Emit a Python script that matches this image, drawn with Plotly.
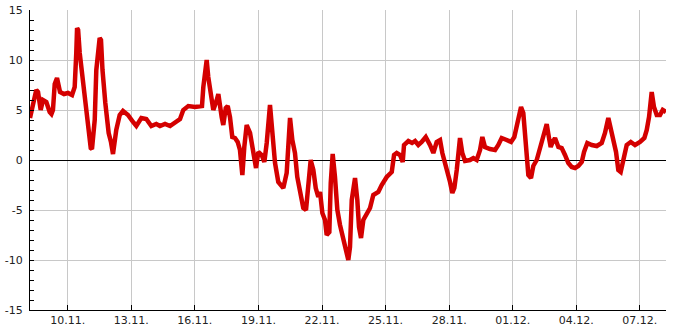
import pandas as pd
import plotly.graph_objects as go

# observation times: hours since 2023-11-08 00:00
hours = [5.3, 8.7, 12.4, 14.4, 17.4, 20.0, 23.8, 27.6, 29.6, 31.3, 33.3, 35.9, 37.6, 39.3,
         43.8, 48.3, 52.9, 55.9, 57.7, 58.6, 59.8, 61.6, 63.4, 67.3, 71.0, 74.1, 75.5, 78.6, 80.4,
         84.2, 85.7, 87.4, 90.6, 94.4, 97.0, 99.3, 103.0, 106.9, 110.6, 116.3, 122.0, 125.7,
         131.4, 137.0, 142.7, 148.3, 152.5, 158.2, 163.9, 169.5, 175.2, 178.9, 184.6, 192.2,
         200.1, 201.6, 205.4, 207.2, 210.3, 212.9, 216.8, 218.6, 222.4, 224.2, 227.0, 229.2,
         231.8, 234.4, 237.5, 240.5, 243.1, 245.8, 248.0, 250.7, 254.5, 257.5, 261.3, 263.9,
         267.7, 270.7, 273.4, 277.1, 279.7, 282.8, 286.5, 290.4, 292.2, 296.0, 299.8, 302.4,
         305.4, 308.0, 311.9, 314.8, 317.9, 320.5, 323.2, 326.2, 328.9, 331.8, 333.8, 336.4,
         339.4, 341.3, 344.3, 345.9, 348.1, 350.7, 353.4, 356.4, 359.5, 362.1, 365.8, 367.7,
         369.7, 373.4, 376.0, 377.9, 380.2, 382.8, 386.6, 390.4, 394.1, 399.8, 403.6, 409.3,
         415.0, 417.6, 420.6, 424.4, 427.4, 428.9, 433.8, 438.0, 441.4, 445.1, 448.9, 453.5,
         458.3, 462.1, 465.9, 469.7, 472.3, 475.3, 478.4, 481.0, 483.6, 485.9, 488.6, 490.4,
         492.3, 494.9, 498.0, 503.6, 507.4, 511.2, 515.0, 517.6, 520.6, 526.3, 532.0, 535.7,
         539.5, 545.2, 550.1, 553.8, 556.5, 561.4, 564.0, 566.7, 569.7, 572.7, 575.3, 579.2,
         582.9, 586.7, 590.5, 593.1, 595.0, 597.3, 599.9, 603.7, 607.5, 611.2, 615.0, 618.8,
         622.6, 626.3, 630.2, 632.8, 636.5, 641.5, 647.2, 652.8, 656.5, 660.3, 663.0, 666.0,
         669.0, 671.6, 674.3, 677.3, 681.1, 685.7, 690.5, 696.2, 701.1, 703.8, 706.4, 709.4,
         712.0, 715.1, 718.8, 721.9, 725.6]

temps = [4.2, 5.5, 7.0, 6.8, 5.0, 6.0, 5.8, 4.8, 4.6, 5.0, 7.6, 8.2, 7.4, 6.8,
         6.6, 6.7, 6.5, 7.3, 10.7, 13.2, 13.0, 10.7, 9.2, 6.3, 3.3, 1.2, 1.1, 4.0, 9.0,
         12.2, 12.0, 9.0, 5.7, 2.7, 1.8, 0.6, 3.0, 4.5, 4.9, 4.5, 3.8, 3.4,
         4.2, 4.1, 3.4, 3.6, 3.4, 3.6, 3.4, 3.8, 4.1, 5.0, 5.4, 5.3,
         5.4, 7.3, 10.0, 8.3, 6.0, 5.0, 6.0, 6.6, 4.3, 3.5, 5.2, 5.4,
         4.3, 2.3, 2.2, 1.8, 1.0, -1.5, 1.3, 3.5, 2.7, 1.3, -0.8, 0.8,
         0.5, -0.2, 1.7, 5.5, 3.3, -0.3, -2.2, -2.7, -2.8, -1.3, 4.2, 2.0,
         0.7, -1.7, -3.3, -4.8, -5.0, -2.3, 0.0, -1.0, -2.8, -3.7, -3.2, -5.3,
         -6.0, -7.5, -7.2, -2.3, 0.6, -1.7, -5.0, -6.5, -7.8, -8.8, -10.0, -8.7,
         -4.0, -1.8, -4.0, -6.7, -7.8, -6.0, -5.5, -4.8, -3.5, -3.2, -2.5, -1.7,
         -1.2, 0.5, 0.7, 0.5, -0.2, 1.5, 1.9, 1.7, 1.9, 1.5, 1.8, 2.3,
         1.5, 0.7, 1.8, 2.0, 0.7, -0.2, -1.3, -2.2, -3.3, -2.8, -1.0, 0.5,
         2.2, 0.7, -0.1, 0.0, 0.2, 0.0, 1.0, 2.3, 1.3, 1.1, 1.0, 1.5,
         2.2, 2.0, 1.8, 2.3, 3.3, 5.3, 4.7, 1.0, -1.5, -1.8, -0.6, 0.0,
         1.3, 2.2, 3.6, 2.2, 1.3, 1.8, 2.2, 1.3, 1.2, 0.5, -0.3, -0.7,
         -0.8, -0.6, -0.2, 0.8, 1.7, 1.5, 1.4, 1.7, 2.7, 4.2, 3.0, 2.2,
         0.8, -1.0, -1.2, 0.0, 1.5, 1.8, 1.5, 1.8, 2.2, 3.0, 4.3, 6.8,
         5.3, 4.5, 4.5, 5.0, 4.8]

start = pd.Timestamp("2023-11-08 00:00")
times = [start + pd.Timedelta(hours=h) for h in hours]

tick_dates = pd.date_range("2023-11-10", "2023-12-07", freq="3D")
tick_labels = [d.strftime("%d.%m.") for d in tick_dates]
y_ticks = [-15, -10, -5, 0, 5, 10, 15]
y_labels = [str(v) for v in y_ticks]

fig = go.Figure()
fig.add_trace(go.Scatter(x=times, y=temps, mode="lines",
                         line=dict(color="#d40000", width=4.5), hoverinfo="skip"))

fig.update_layout(
    width=685, height=330,
    margin=dict(l=30, r=19, t=10, b=20),
    paper_bgcolor="white", plot_bgcolor="white",
    showlegend=False,
    font=dict(family="DejaVu Sans", size=11, color="#222"),
)
fig.update_xaxes(
    range=[times[0], times[-1]],
    tickvals=tick_dates, ticktext=tick_labels,
    ticks="inside", ticklen=5, tickcolor="black",
    showgrid=True, gridcolor="#c8c8c8", gridwidth=1,
    showline=True, linecolor="black", linewidth=1,
    zeroline=False, automargin=False,
)
fig.update_yaxes(
    range=[-15, 15],
    tickvals=y_ticks, ticktext=y_labels,
    ticks="inside", ticklen=4, tickcolor="black",
    minor=dict(dtick=1, ticks="inside", ticklen=4, tickcolor="black", showgrid=False),
    showgrid=True, gridcolor="#c8c8c8", gridwidth=1,
    showline=True, linecolor="black", linewidth=1,
    zeroline=True, zerolinecolor="black", zerolinewidth=1,
    ticklabelstandoff=4, automargin=False,
)
fig.write_html("out.html")
